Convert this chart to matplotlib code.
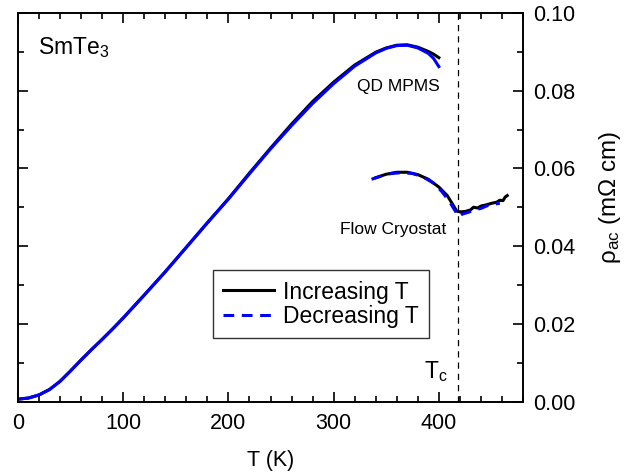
import numpy as np
import matplotlib
matplotlib.use("Agg")
import matplotlib.pyplot as plt

plt.rcParams['font.family'] = ['Liberation Sans', 'DejaVu Sans']
plt.rcParams['mathtext.fontset'] = 'custom'
plt.rcParams['mathtext.rm'] = 'Liberation Sans'
plt.rcParams['mathtext.it'] = 'Liberation Sans:italic'

# QD MPMS data, warming and cooling (T in K, rho in mOhm cm)
T_mpms = [0, 10, 20, 30, 40, 50, 60, 70, 80, 90, 100, 120, 140, 160, 180,
          200, 220, 240, 260, 280, 300, 320, 340, 350, 360, 370, 380, 390, 395, 400]
rho_mpms_up = [0.0006, 0.0009, 0.0017, 0.0031, 0.0052, 0.0079, 0.0107, 0.0134,
               0.0160, 0.0187, 0.0215, 0.0274, 0.0334, 0.0397, 0.0460, 0.0522,
               0.0588, 0.0652, 0.0714, 0.0772, 0.0822, 0.0866, 0.0899, 0.0910,
               0.0917, 0.0918, 0.0912, 0.0901, 0.0894, 0.0885]
rho_mpms_down = [0.0006, 0.0009, 0.0017, 0.0031, 0.0052, 0.0079, 0.0107, 0.0134,
                 0.0160, 0.0187, 0.0215, 0.0274, 0.0334, 0.0397, 0.0460, 0.0521,
                 0.0586, 0.0650, 0.0710, 0.0767, 0.0818, 0.0863, 0.0897, 0.0909,
                 0.0916, 0.0917, 0.0910, 0.0896, 0.0883, 0.0862]

# flow cryostat data
T_flow_up = [340, 350, 360, 370, 380, 390, 400, 408, 413, 417, 420, 425, 430,
             433, 437, 440, 445, 450, 455, 458, 461, 463, 465]
rho_flow_up = [0.0576, 0.0585, 0.0590, 0.0590, 0.0584, 0.0572, 0.0552, 0.0530,
               0.0508, 0.0490, 0.0488, 0.0489, 0.0493, 0.0500, 0.0498, 0.0503,
               0.0506, 0.0510, 0.0513, 0.0518, 0.0517, 0.0526, 0.0530]
T_flow_down = [336, 345, 355, 365, 375, 385, 395, 403, 410, 415, 419, 422, 428,
               435, 440, 447, 452, 458]
rho_flow_down = [0.0572, 0.0580, 0.0587, 0.0589, 0.0587, 0.0578, 0.0562, 0.0540,
                 0.0515, 0.0493, 0.0476, 0.0482, 0.0487, 0.0494, 0.0497, 0.0505,
                 0.0508, 0.0510]

T_c = 418

fig = plt.figure(figsize=(6.25, 4.75), dpi=100)
ax = fig.add_axes([0.0288, 0.1547, 0.808, 0.818])

ax.plot(T_mpms, rho_mpms_up, color='black', lw=2.2, label='Increasing T')
ax.plot(T_mpms, rho_mpms_down, color='blue', lw=2.2)
ax.plot(T_flow_up, rho_flow_up, color='black', lw=2.2)
ax.plot(T_flow_down, rho_flow_down, color='blue', lw=2.2, ls=(0, (3.5, 2.5)),
        label='Decreasing T')

ax.axvline(T_c, color='black', lw=0.9, ls=(0, (5, 4)))

ax.set_xlim(0, 480)
ax.set_ylim(0, 0.10)
ax.set_xticks(np.arange(0, 401, 100))
ax.set_xticks(np.arange(0, 481, 20), minor=True)
ax.set_yticks(np.arange(0, 0.101, 0.02))
ax.set_yticks(np.arange(0, 0.101, 0.01), minor=True)
ax.yaxis.set_major_formatter(matplotlib.ticker.FormatStrFormatter('%.2f'))

ax.tick_params(axis='both', which='both', direction='in', top=True, right=True,
               left=True, bottom=True, labelleft=False, labelright=True,
               labelsize=15.5, width=1.2)
ax.tick_params(which='major', length=7)
ax.tick_params(which='minor', length=4)
ax.tick_params(axis='x', which='major', pad=8)
ax.tick_params(axis='y', which='major', pad=7)
for s in ax.spines.values():
    s.set_linewidth(1.4)

ax.set_xlabel('T (K)', fontsize=15.5, labelpad=12)
# y axis title sits on the right, a little above the axes centre
ax.text(1.172, 0.526, r'ρ$_{\mathrm{ac}}$ (mΩ cm)', fontsize=17.5, rotation=90,
        ha='center', va='center', transform=ax.transAxes)

ax.text(19, 0.0893, r'SmTe$_3$', fontsize=16.5, va='baseline')
ax.text(401, 0.0811, 'QD MPMS', fontsize=12.5, ha='right', va='center')
ax.text(407, 0.0442, 'Flow Cryostat', fontsize=12.5, ha='right', va='center')
ax.text(408, 0.0061, r'T$_{\mathrm{c}}$', fontsize=16.5, ha='right', va='baseline')

leg = ax.legend(loc='upper left', bbox_to_anchor=(0.386, 0.338), fontsize=16.5,
                frameon=True, fancybox=False, borderaxespad=0, handlelength=2.2,
                handletextpad=0.4, borderpad=0.45, labelspacing=0.05)
leg.get_frame().set_edgecolor('black')
leg.get_frame().set_linewidth(1.0)

fig.savefig('out.png', dpi=100)
